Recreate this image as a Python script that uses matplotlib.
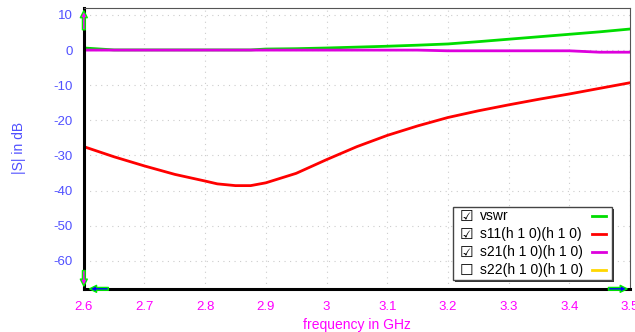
import matplotlib
matplotlib.use("Agg")
from matplotlib import pyplot as plt
from matplotlib.patches import Rectangle

plt.rcParams['font.family'] = ['Liberation Sans', 'DejaVu Sans']
plt.rcParams['axes.unicode_minus'] = False

# sweep data
freq = [2.6, 2.65, 2.7, 2.75, 2.8, 2.82, 2.85, 2.875, 2.9, 2.95, 3.0, 3.05, 3.1, 3.15, 3.2, 3.25, 3.3, 3.35, 3.4, 3.45, 3.5]
s11 = [-27.5, -30.4, -33.0, -35.4, -37.3, -38.1, -38.6, -38.6, -37.8, -35.1, -31.2, -27.5, -24.3, -21.6, -19.2, -17.3, -15.6, -14.0, -12.5, -10.9, -9.3]
s21 = [0, 0, 0, 0, 0, 0, 0, 0, 0, 0, 0, 0, 0, 0, -0.2, -0.2, -0.2, -0.2, -0.2, -0.6, -0.6]
vswr = [0.6, 0.05, 0.05, 0.05, 0.05, 0.05, 0.05, 0.05, 0.3, 0.4, 0.6, 0.85, 1.1, 1.4, 1.75, 2.4, 3.1, 3.8, 4.5, 5.2, 6.0]
names = ["vswr", "s11(h 1 0)(h 1 0)", "s21(h 1 0)(h 1 0)", "s22(h 1 0)(h 1 0)"]
checked = [True, True, True, False]
colors = ["#00dd00", "#ff0000", "#dd00dd", "#ffd700"]
xticks = [2.6, 2.7, 2.8, 2.9, 3.0, 3.1, 3.2, 3.3, 3.4, 3.5]
xticklabels = ["2.6", "2.7", "2.8", "2.9", "3", "3.1", "3.2", "3.3", "3.4", "3.5"]
yticks = [10, 0, -10, -20, -30, -40, -50, -60]

fig = plt.figure(figsize=(6.35, 3.32), dpi=100)
ax = fig.add_axes([0.132, 0.13, 0.86, 0.846])

ax.plot(freq, vswr, color=colors[0], lw=2)
ax.plot(freq, s11, color=colors[1], lw=2)
ax.plot(freq, s21, color=colors[2], lw=2)

ax.set_xlim(2.6, 3.5)
ax.set_ylim(-68, 12)
ax.set_xticks(xticks)
ax.set_xticklabels(xticklabels)
ax.set_yticks(yticks)
ax.tick_params(axis="x", colors="#ff00ff", labelsize=9.5, length=0, pad=9)
ax.tick_params(axis="y", colors="#5050ff", labelsize=9.5, length=0, pad=8)
ax.grid(True, color="#cccccc", linestyle=(0, (1, 4)), lw=0.8)

ax.spines["left"].set_linewidth(2.2)
ax.spines["bottom"].set_linewidth(2.2)
ax.spines["top"].set_color("#555555")
ax.spines["right"].set_color("#555555")

ax.set_xlabel("frequency in GHz", color="#ff00ff", fontsize=10, labelpad=3)
ax.set_ylabel("|S| in dB", color="#5050ff", fontsize=10, labelpad=20)

# axis arrows
ax.annotate("", xy=(2.6, 12), xytext=(2.6, 5),
            arrowprops=dict(arrowstyle="simple", color="#ff00ff", ec="#00ee00"), annotation_clip=False)
ax.annotate("", xy=(2.6, -68), xytext=(2.6, -62),
            arrowprops=dict(arrowstyle="simple", color="#ff00ff", ec="#00ee00"), annotation_clip=False)
ax.annotate("", xy=(2.605, -68), xytext=(2.645, -68),
            arrowprops=dict(arrowstyle="simple", color="#0000ff", ec="#00ee00"), annotation_clip=False)
ax.annotate("", xy=(3.5, -68), xytext=(3.46, -68),
            arrowprops=dict(arrowstyle="simple", color="#0000ff", ec="#00ee00"), annotation_clip=False)

# legend drawn by hand (checkbox, name, line on the right)
tr = ax.transAxes
ax.add_patch(Rectangle((0.679, 0.024), 0.291, 0.26, transform=tr, facecolor="#333333",
                       edgecolor="none", zorder=6, clip_on=False))
ax.add_patch(Rectangle((0.676, 0.032), 0.291, 0.26, transform=tr, facecolor="white",
                       edgecolor="#444444", lw=1, zorder=7, clip_on=False))
rows = [0.258, 0.194, 0.130, 0.066]
for name, on, c, yy in zip(names, checked, colors, rows):
    ax.text(0.688, yy, "\u2611" if on else "\u2610", transform=tr, fontsize=11,
            family="DejaVu Sans", va="center", ha="left", zorder=8)
    ax.text(0.725, yy, name, transform=tr, fontsize=10, va="center", ha="left", zorder=8)
    ax.plot([0.930, 0.957], [yy, yy], transform=tr, color=c, lw=2, zorder=8, clip_on=False)

fig.savefig("out.png", dpi=100)
